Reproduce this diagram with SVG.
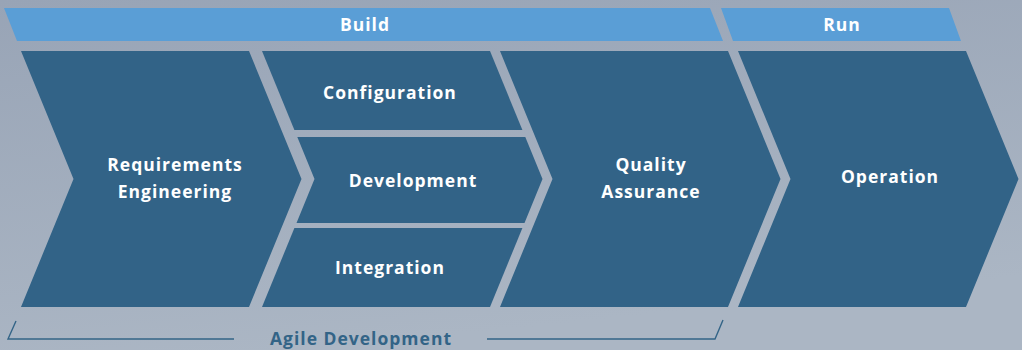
<svg xmlns="http://www.w3.org/2000/svg" width="1022" height="350" viewBox="0 0 1022 350">
<defs>
<linearGradient id="bg" x1="0" y1="0" x2="0.3" y2="1">
<stop offset="0" stop-color="#98a4b6"/>
<stop offset="1" stop-color="#abb6c4"/>
</linearGradient>
</defs>
<style>
.bar{fill:#5a9ed6}
.chev{fill:#326387}
.lbl{font-family:"Open Sans","Liberation Sans",sans-serif;font-weight:700;font-size:17.5px;fill:#ffffff;text-anchor:middle;letter-spacing:1px}
.agile{font-family:"Open Sans","Liberation Sans",sans-serif;font-weight:700;font-size:17.5px;fill:#336487;text-anchor:middle;letter-spacing:1px}
.brk{fill:none;stroke:#336487;stroke-width:1.4}
</style>
<rect width="1022" height="350" fill="url(#bg)"/>
<g id="build">
<polygon class="bar" points="4,8 710,8 723,41 17,41"/>
<text class="lbl" x="365" y="31">Build</text>
</g>
<g id="run">
<polygon class="bar" points="721,8 949,8 961,41 733,41"/>
<text class="lbl" x="842" y="31">Run</text>
</g>
<g id="requirements">
<polygon class="chev" points="21,51 249,51 301.5,179 249,307 21,307 73.5,179"/>
<text class="lbl" x="175" y="171">Requirements</text>
<text class="lbl" x="175" y="198">Engineering</text>
</g>
<g id="configuration">
<polygon class="chev" points="262,51 490,51 522.4,130 294.4,130"/>
<text class="lbl" x="390" y="99">Configuration</text>
</g>
<g id="development">
<polygon class="chev" points="297.3,137 525.3,137 542.5,179 524.5,223 296.5,223 314.5,179"/>
<text class="lbl" x="413" y="187">Development</text>
</g>
<g id="integration">
<polygon class="chev" points="294.4,228 522.4,228 490,307 262,307"/>
<text class="lbl" x="390" y="274">Integration</text>
</g>
<g id="quality">
<polygon class="chev" points="500,51 728,51 780.5,179 728,307 500,307 552.5,179"/>
<text class="lbl" x="651" y="171">Quality</text>
<text class="lbl" x="651" y="198">Assurance</text>
</g>
<g id="operation">
<polygon class="chev" points="738,51 966,51 1018.5,179 966,307 738,307 790.5,179"/>
<text class="lbl" x="890" y="183">Operation</text>
</g>
<g id="connectors">
<polyline class="brk" points="16,321 8,339 234,339"/>
<polyline class="brk" points="487,339 715,339 723,320"/>
</g>
<g id="agile">
<text class="agile" x="361" y="345">Agile Development</text>
</g>
</svg>
